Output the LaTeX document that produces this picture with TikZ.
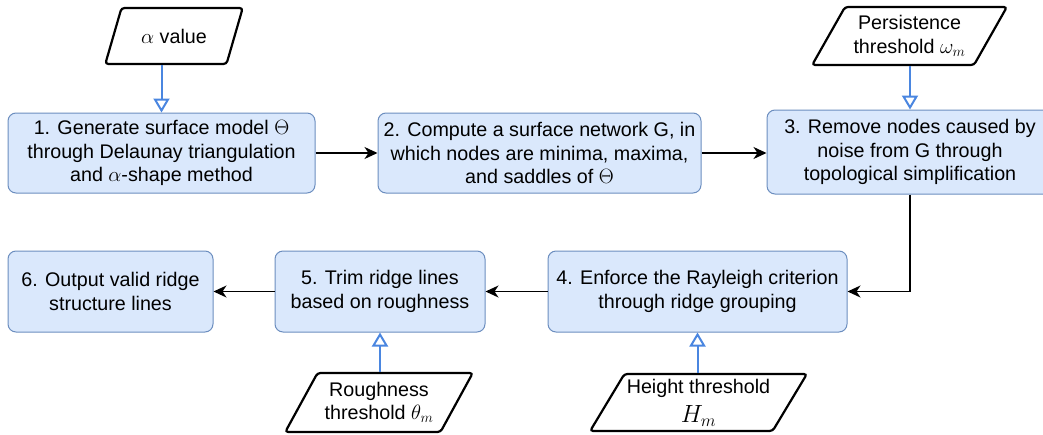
\documentclass[tikz,border=0pt]{standalone}
\usepackage[no-math]{fontspec}
\setmainfont{Liberation Sans}
\usetikzlibrary{shapes.geometric,arrows.meta}

\definecolor{stepfill}{HTML}{DAE8FC}
\definecolor{stepline}{HTML}{6C8EBF}
\definecolor{feedblue}{HTML}{4A86E0}

\tikzset{
  labelfont/.style={font=\fontsize{19.7}{23.4}\selectfont},
  stepbox/.style={draw=stepline, fill=stepfill, rounded corners=8pt,
    line width=1pt, align=center, inner sep=0pt, labelfont},
  inputbox/.style={trapezium, trapezium left angle=55, trapezium right angle=125,
    trapezium stretches=true, draw=black, line width=2.2pt, rounded corners=3pt,
    fill=white, align=center, inner sep=0pt, labelfont},
  flow/.style={draw=black, line width=1.3pt,
    -{Stealth[length=13pt,width=12pt,inset=4pt]}},
  feed/.style={draw=feedblue, line width=2pt,
    -{Triangle[open,length=14pt,width=16pt]}},
}

\begin{document}
\begin{tikzpicture}[x=1pt,y=-1pt]
\useasboundingbox (0,0) rectangle (1043,434);
\clip (0,0) rectangle (1043,434);

% processing steps, top row
\node[stepbox, minimum width=307pt, minimum height=80pt] (b1) at (161.5,153)
  {1. Generate surface model $\Theta$\\through Delaunay triangulation\\and $\alpha$-shape method};
\node[stepbox, minimum width=323pt, minimum height=80pt] (b2) at (539.5,153)
  {2. Compute a surface network G, in\\which nodes are minima, maxima,\\and saddles of $\Theta$};
\node[stepbox, minimum width=286pt, minimum height=84pt] (b3) at (910,152)
  {3. Remove nodes caused by\\noise from G through\\topological simplification};

% processing steps, bottom row
\node[stepbox, minimum width=299pt, minimum height=81pt] (b4) at (697.5,291.5)
  {4. Enforce the Rayleigh criterion\\through ridge grouping};
\node[stepbox, minimum width=210pt, minimum height=81pt] (b5) at (380,291.5)
  {5. Trim ridge lines\\based on roughness};
\node[stepbox, minimum width=205pt, minimum height=81pt] (b6) at (110.5,291.5)
  {6. Output valid ridge\\structure lines};

% parameter inputs
\node[inputbox, minimum width=138pt, minimum height=56pt] (alpha) at (174,36)
  {$\alpha$ value};
\node[inputbox, minimum width=195pt, minimum height=58pt] (pers) at (909.5,36)
  {Persistence\\threshold $\omega_m$};
\node[inputbox, minimum width=188pt, minimum height=59pt] (rough) at (379,402.5)
  {Roughness\\threshold $\theta_m$};
\node[inputbox, minimum width=217pt, minimum height=57pt] (height) at (698.5,402.5)
  {Height threshold\\[6pt]{\fontsize{23}{26}\selectfont$H_m$}};

% main flow
\draw[flow] (b1.east) -- (b2.west |- b1.east);
\draw[flow] (b2.east) -- (b3.west |- b2.east);
\draw[flow] (b3.south) |- (b4.east);
\draw[flow] (b4.west) -- (b5.east);
\draw[flow] (b5.west) -- (b6.east);

% parameter feeds
\draw[feed] (b1.north |- alpha.south) -- (b1.north);
\draw[feed] (b3.north |- pers.south) -- (b3.north);
\draw[feed] (b5.south |- rough.north) -- (b5.south);
\draw[feed] (b4.south |- height.north) -- (b4.south);
\end{tikzpicture}
\end{document}
